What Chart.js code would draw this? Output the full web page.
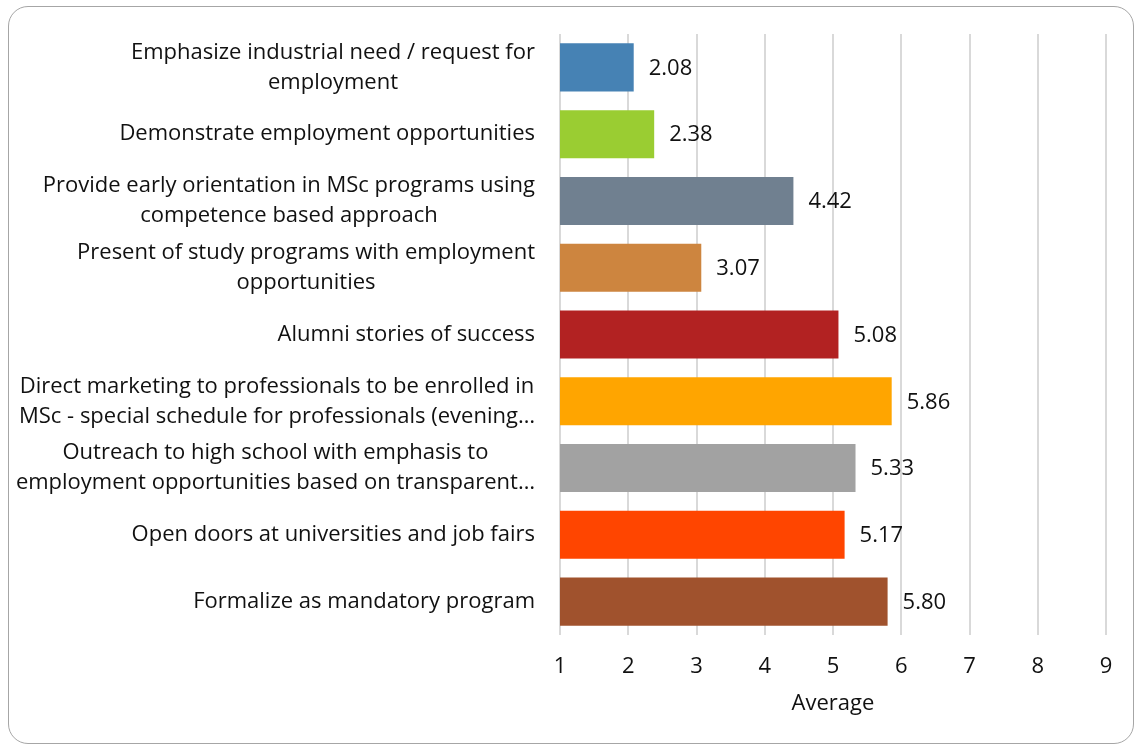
<!DOCTYPE html>
<html>
<head>
<meta charset="utf-8">
<title>Average</title>
<script src="https://cdn.jsdelivr.net/npm/chart.js@4/dist/chart.umd.min.js"></script>
<style>
  html, body { margin: 0; padding: 0; background: #fff; }
  #wrap { position: relative; width: 1135px; height: 744px; overflow: hidden; }
  #frame {
    position: absolute; left: 8px; top: 6px; width: 1124px; height: 736px;
    border: 1.5px solid #a6a6a6; border-radius: 20px; pointer-events: none;
  }
  canvas { position: absolute; left: 0; top: 0; }
</style>
</head>
<body>
<div id="wrap">
  <div id="frame"></div>
  <canvas id="chart" width="1135" height="744"></canvas>
</div>
<script>
// Category labels (each entry is the lines of one wrapped label)
const categories = [
    ['Emphasize industrial need / request for', 'employment'],
    ['Demonstrate employment opportunities'],
    ['Provide early orientation in MSc programs using', 'competence based approach'],
    ['Present of study programs with employment', 'opportunities'],
    ['Alumni stories of success'],
    ['Direct marketing to professionals to be enrolled in', 'MSc - special schedule for professionals (evening…'],
    ['Outreach to high school with emphasis to', 'employment opportunities based on transparent…'],
    ['Open doors at universities and job fairs'],
    ['Formalize as mandatory program']
];
const averages = [2.08, 2.38, 4.42, 3.07, 5.08, 5.86, 5.33, 5.17, 5.80];
const barColors = ['#4682b4', '#9acd32', '#708090', '#cd853f', '#b22222', '#ffa500', '#a2a2a2', '#ff4500', '#a0522d'];
const xMin = 1, xMax = 9, xStep = 1;
const axisTitle = 'Average';

const FONT = '"Open Sans", "Noto Sans", sans-serif';
const FONT_SIZE = 22;
const TEXT_COLOR = '#111';

// Wrapped category labels: block right-aligned to the axis, lines centred inside the block
const categoryLabels = {
    id: 'categoryLabels',
    afterDraw(chart) {
        const ctx = chart.ctx;
        const yScale = chart.scales.y;
        const right = chart.chartArea.left - 25;
        const lineGap = 30;
        ctx.save();
        ctx.font = `${FONT_SIZE}px ${FONT}`;
        ctx.fillStyle = TEXT_COLOR;
        ctx.textAlign = 'center';
        ctx.textBaseline = 'middle';
        categories.forEach((lines, i) => {
            const cy = yScale.getPixelForTick(i);
            const widest = Math.max(...lines.map(l => ctx.measureText(l).width));
            const cx = right - widest / 2;
            const top = cy - (lines.length - 1) * lineGap / 2;
            lines.forEach((l, j) => ctx.fillText(l, cx, top + j * lineGap));
        });
        ctx.restore();
    }
};

// Value printed to the right of each bar
const valueLabels = {
    id: 'valueLabels',
    afterDatasetsDraw(chart) {
        const ctx = chart.ctx;
        const meta = chart.getDatasetMeta(0);
        ctx.save();
        ctx.font = `${FONT_SIZE}px ${FONT}`;
        ctx.fillStyle = TEXT_COLOR;
        ctx.textAlign = 'left';
        ctx.textBaseline = 'middle';
        meta.data.forEach((bar, i) => {
            ctx.fillText(averages[i].toFixed(2), bar.x + 15, bar.y + 1);
        });
        ctx.restore();
    }
};

new Chart(document.getElementById('chart'), {
    type: 'bar',
    data: {
        labels: categories.map(c => c.join(' ')),
        datasets: [{
            data: averages,
            backgroundColor: barColors,
            borderWidth: 0,
            barPercentage: 0.8,
            categoryPercentage: 0.9
        }]
    },
    options: {
        indexAxis: 'y',
        responsive: false,
        animation: false,
        devicePixelRatio: 1,
        layout: { padding: { left: 0, right: 29, top: 34, bottom: 27 } },
        plugins: {
            legend: { display: false },
            tooltip: { enabled: false }
        },
        scales: {
            x: {
                min: xMin,
                max: xMax,
                afterFit(scale) { scale.height = 82; },
                ticks: {
                    stepSize: xStep,
                    padding: 19,
                    color: TEXT_COLOR,
                    font: { family: FONT, size: FONT_SIZE }
                },
                grid: { color: '#d9d9d9', lineWidth: 2, drawTicks: false },
                border: { display: false },
                title: {
                    display: true,
                    text: axisTitle,
                    color: TEXT_COLOR,
                    font: { family: FONT, size: FONT_SIZE },
                    padding: { top: 12, bottom: 0 }
                }
            },
            y: {
                afterFit(scale) { scale.width = 560; },
                ticks: { display: false },
                grid: { display: false },
                border: { display: false }
            }
        }
    },
    plugins: [categoryLabels, valueLabels]
});
</script>
</body>
</html>
